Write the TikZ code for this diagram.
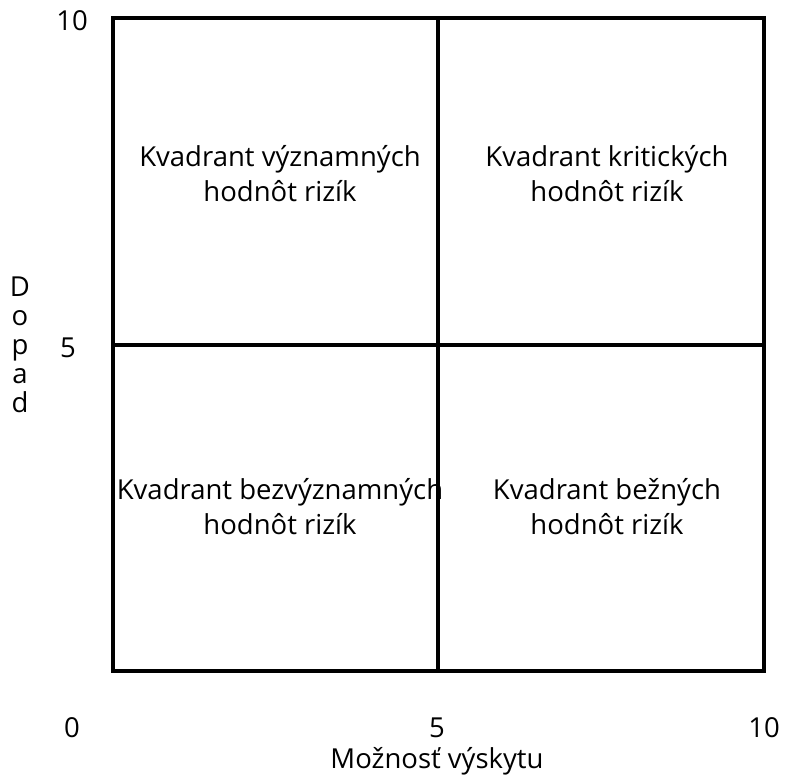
\documentclass[tikz,border=0pt]{standalone}
\usepackage{fontspec}
\setmainfont{Open Sans}
\begin{document}
\begin{tikzpicture}[x=1pt,y=1pt,
  lbl/.style={font=\fontsize{27.5}{35}\selectfont, inner sep=0pt, anchor=base},
  quad/.style={lbl, align=center},
  grid/.style={line width=4pt, line cap=rect}]
\useasboundingbox (0,0) rectangle (785,778);

% matrix frame and quadrant dividers
\coordinate (sw) at (112.5,107);
\coordinate (ne) at (764,759.5);
\coordinate (mtop) at (437.5,759.5);
\coordinate (mbot) at (437.5,107);
\coordinate (mleft) at (112.5,433);
\coordinate (mright) at (764,433);
\draw[grid] (sw) rectangle (ne);
\draw[grid] (mtop) -- (mbot);
\draw[grid] (mleft) -- (mright);

% quadrant captions (base = baseline of the last line)
\node[quad] (q1) at (280,576) {Kvadrant významných\\hodnôt rizík};
\node[quad] (q2) at (607,576) {Kvadrant kritických\\hodnôt rizík};
\node[quad] (q3) at (280,243) {Kvadrant bezvýznamných\\hodnôt rizík};
\node[quad] (q4) at (607,243) {Kvadrant bežných\\hodnôt rizík};

% axis values
\node[lbl] (y10) at (72,747) {10};
\node[lbl] (y5)  at (68,420) {5};
\node[lbl] (x0)  at (72,40) {0};
\node[lbl] (x5)  at (437,40) {5};
\node[lbl] (x10) at (764,40) {10};

% axis titles
\node[lbl] (xt) at (437,9) {Možnosť výskytu};
\node[lbl] (d1) at (20,481) {D};
\node[lbl] (d2) at (20,452) {o};
\node[lbl] (d3) at (20,423) {p};
\node[lbl] (d4) at (20,394) {a};
\node[lbl] (d5) at (20,365) {d};
\end{tikzpicture}
\end{document}
